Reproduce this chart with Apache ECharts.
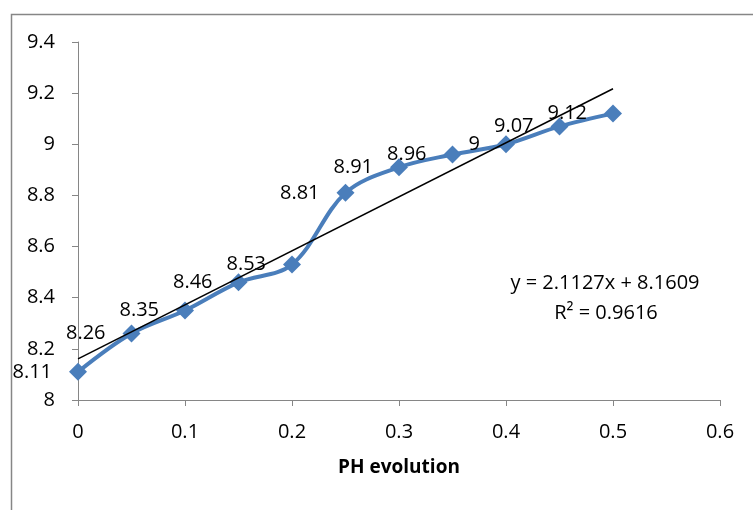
<!DOCTYPE html>
<html>
<head>
<meta charset="utf-8">
<script src="https://cdn.jsdelivr.net/npm/echarts@6/dist/echarts.min.js"></script>
<style>html,body{margin:0;padding:0;background:#fff}#c{width:753px;height:510px}</style>
</head>
<body>
<div id="c"></div>
<script>
const xValues = [0, 0.05, 0.1, 0.15, 0.2, 0.25, 0.3, 0.35, 0.4, 0.45, 0.5];
const phValues = [8.11, 8.26, 8.35, 8.46, 8.53, 8.81, 8.91, 8.96, 9, 9.07, 9.12];
const trendSlope = 2.1127;
const trendIntercept = 8.1609;
const rSquared = 0.9616;
const xAxisName = 'PH evolution';

const FONT = '"Open Sans", "Liberation Sans", sans-serif';
const FS = 20;
const chart = echarts.init(document.getElementById('c'), null, {renderer: 'canvas'});
const seriesData = xValues.map((x, i) => [x, phValues[i]]);
const trendData = [xValues[0], xValues[xValues.length - 1]].map(x => [x, trendSlope * x + trendIntercept]);

chart.setOption({
  animation: false,
  backgroundColor: '#fff',
  grid: {left: 78, right: 33, top: 42, bottom: 110, containLabel: false},
  xAxis: {
    type: 'value', min: 0, max: 0.6, interval: 0.1,
    name: xAxisName, nameLocation: 'middle', nameGap: 58,
    nameTextStyle: {fontFamily: FONT, fontSize: 19, fontWeight: 'bold', color: '#000'},
    axisLine: {show: true, lineStyle: {color: '#868686', width: 1}},
    axisTick: {show: true, inside: false, length: 6, lineStyle: {color: '#868686'}},
    axisLabel: {margin: 22, fontFamily: FONT, fontSize: FS, color: '#000'},
    splitLine: {show: false}
  },
  yAxis: {
    type: 'value', min: 8, max: 9.4, interval: 0.2,
    axisLine: {show: true, lineStyle: {color: '#868686', width: 1}},
    axisTick: {show: true, inside: false, length: 6, lineStyle: {color: '#868686'}},
    axisLabel: {margin: 23, fontFamily: FONT, fontSize: FS, color: '#000'},
    splitLine: {show: false}
  },
  graphic: [
    {type: 'rect', left: 9, top: 12, shape: {width: 800, height: 600}, style: {fill: 'none', stroke: '#868686', lineWidth: 1.5}, silent: true, z: -1},
    {type: 'text', x: 605, y: 283, style: {text: 'y = ' + trendSlope + 'x + ' + trendIntercept, font: FS + 'px ' + FONT, fill: '#000', align: 'center', verticalAlign: 'middle'}},
    {type: 'text', x: 606, y: 313, style: {text: 'R² = ' + rSquared, font: FS + 'px ' + FONT, fill: '#000', align: 'center', verticalAlign: 'middle'}}
  ],
  series: [
    {
      type: 'line', data: seriesData, smooth: 0.35,
      symbol: 'diamond', symbolSize: 18,
      lineStyle: {color: '#4a7ebb', width: 4},
      itemStyle: {color: '#4a7ebb'},
      label: {show: true, position: 'left', distance: 17, fontFamily: FONT, fontSize: FS, color: '#000',
        formatter: p => String(p.value[1])},
      z: 2
    },
    {
      type: 'line', data: trendData, symbol: 'none',
      lineStyle: {color: '#000', width: 1.5}, z: 3, silent: true
    }
  ]
});
</script>
</body>
</html>
